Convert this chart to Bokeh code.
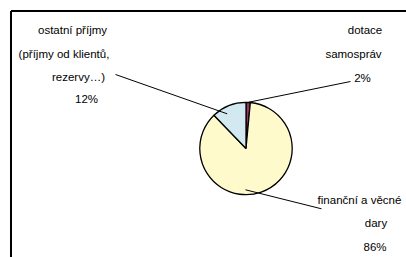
import numpy as np
from bokeh.plotting import figure
from bokeh.models import Range1d
from bokeh.core.properties import value
from bokeh.embed import file_html
from bokeh.resources import INLINE

# ---- data ----
categories = ["dotace samospráv", "finanční a věcné dary", "ostatní příjmy (příjmy od klientů, rezervy…)"]
shares = [1.5, 86.3, 12.2]
colors = ["#993366", "#FFFACC", "#D2E9F2"]
label_lines = [
    ["dotace", "samospráv", "2%"],
    ["finanční a věcné", "dary", "86%"],
    ["ostatní příjmy", "(příjmy od klientů,", "rezervy…)", "12%"],
]

W, H = 406, 257


def px(X, Y):
    """page pixel -> data coords"""
    return X, H - Y


p = figure(width=W, height=H, output_backend="svg", toolbar_location=None,
           x_range=Range1d(0, W), y_range=Range1d(0, H), min_border=0)
p.axis.visible = False
p.grid.visible = False
p.outline_line_color = None
p.background_fill_color = "white"
p.border_fill_color = "white"

# pie
cx, cy = px(245.5, 148)
r = 46.2
frac = np.array(shares) / sum(shares)
cum = np.concatenate([[0], np.cumsum(frac)])
start = np.pi / 2 - cum[:-1] * 2 * np.pi
end = np.pi / 2 - cum[1:] * 2 * np.pi
p.wedge(x=cx, y=cy, radius=r, start_angle=start, end_angle=end, direction="clock",
        fill_color=colors, line_color="black", line_width=1.3)

# leader lines
leaders = [((248.3, 101.7), (350, 81)),
           ((245, 189.3), (321, 208.3)),
           ((226.7, 113.3), (115, 74))]
for (a, b) in leaders:
    x0, y0 = px(*a)
    x1, y1 = px(*b)
    p.line([x0, x1], [y0, y1], line_color="black", line_width=1)

# labels
pos = [
    [(364.5, 29), (353, 53), (362, 77)],
    [(359, 199), (375.5, 222), (374.5, 246)],
    [(72, 29), (63.5, 53), (78, 76), (86, 98)],
]
for lines, ps in zip(label_lines, pos):
    for t, (X, Y) in zip(lines, ps):
        x, y = px(X, Y)
        p.text(x=[x], y=[y], text=[t], text_font=value("Liberation Sans"),
               text_font_size="11.5px", text_align="center", text_baseline="middle",
               text_color="black")

# frame (top and left visible)
fx0, fy0 = px(10.5, 10.5)
p.segment(x0=[fx0, fx0], y0=[fy0, fy0], x1=[W + 20, fx0], y1=[fy0, -20],
          line_color="black", line_width=2)

open("out.html", "w").write(file_html(p, INLINE))
